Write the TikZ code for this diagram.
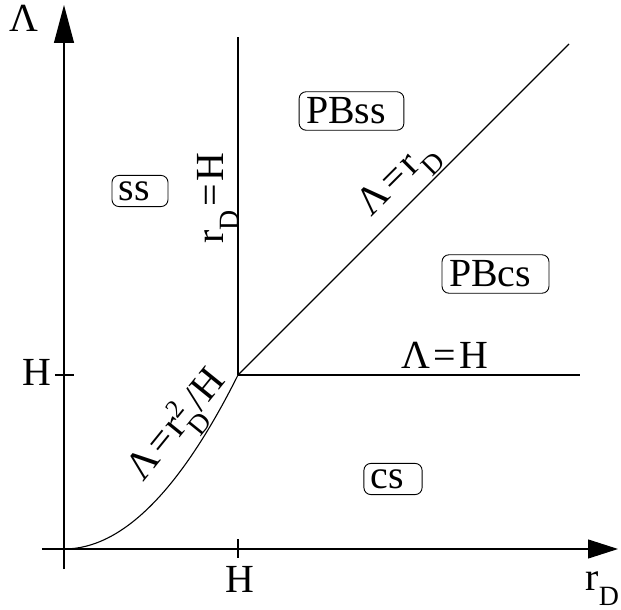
\documentclass[tikz,border=0pt]{standalone}
\usepackage{fontspec}
\setmainfont{Liberation Serif}
\usetikzlibrary{positioning,arrows.meta}

\newcommand{\lowsub}[1]{\raisebox{-15bp}{\fontsize{28}{28}\selectfont #1}}
\newcommand{\highsup}[1]{\rlap{\raisebox{14bp}{\fontsize{26}{26}\selectfont #1}}}
\newcommand{\eqs}{\hspace{3bp}=\hspace{3bp}}

\begin{document}
\begin{tikzpicture}[x=1bp,y=1bp,line width=1.1bp,
  every node/.style={font=\fontsize{40}{44}\selectfont},
  lbl/.style={inner sep=0pt},
  region/.style={draw,line width=0.9bp,rounded corners=7bp,inner ysep=6bp,inner xsep=7bp,
    execute at end node={\hspace{11bp}}}]

\def\h{174}

\useasboundingbox (-64,-61) rectangle (557,549);

\coordinate (O) at (0,0);
\coordinate (P) at (\h,\h);

% axes
\draw[-{Triangle[length=30bp,width=19bp]}] (-22,0) -- (554,0);
\draw[-{Triangle[length=38bp,width=20bp]}] (0,-20) -- (0,544);
\draw (\h,-9) -- (\h,10);
\draw (-9,\h) -- (10,\h);

% boundaries
\draw (P) -- (\h,512);
\draw (P) -- (516,\h);
\draw (P) -- (505,505);
\draw (O) .. controls (58,0) and (116,58) .. (P);

\node[lbl, anchor=base west] (lam) at (-55,517) {Λ};
\node[lbl, anchor=base east] (hy) at (-12,163) {H};
\node[lbl, anchor=base] (hx) at (176,-43) {H};
\node[lbl, anchor=base west] (rd) at (521,-41) {r\lowsub{D}};

\node[region] (ss) at (76,358) {ss};
\node[region] (pbss) at (287.5,438) {PBss};
\node[region] (pbcs) at (431.5,275) {PBcs};
\node[region] (cs) at (329,70) {cs};

\node[lbl, anchor=base, rotate=90] (vline) at (159,351) {r\lowsub{D}\eqs H};
\node[lbl, anchor=base, rotate=45] (diag) at (340,364) {Λ\eqs r\lowsub{D}};
\node[lbl, anchor=base] (hline) at (381,180) {Λ\eqs H};
\node[lbl, anchor=base, rotate=51] (curve) at (121,117) {Λ\eqs r\highsup{2}\lowsub{D}/H};

\end{tikzpicture}
\end{document}
